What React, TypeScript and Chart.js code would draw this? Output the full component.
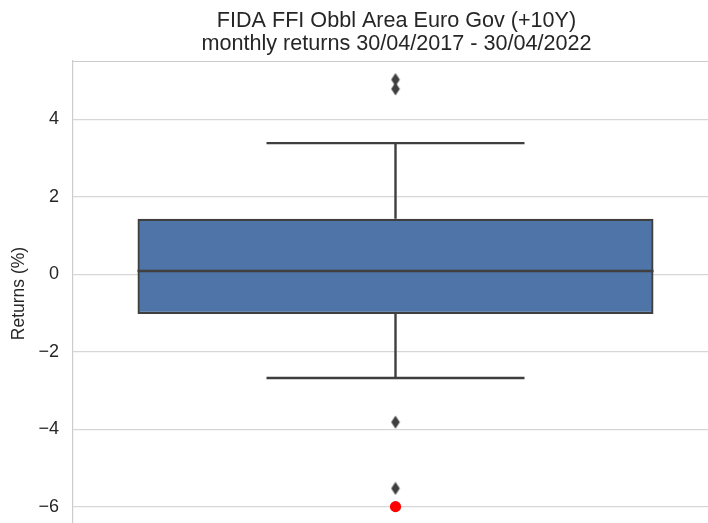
import React, { useEffect, useRef } from "react";
import { Chart, registerables } from "chart.js";

Chart.register(...registerables);

// ---- data ----
const categories = ["FIDA FFI Obbl Area Euro Gov (+10Y)"];
const boxLow = [-1.03];      // Q1
const boxHigh = [1.43];      // Q3
const medians = [0.08];
const whiskerLow = [-2.68];
const whiskerHigh = [3.38];
const outliers = [5.02, 4.78, -3.82, -5.53];
const highlighted = [-6.0];
const yTicks = [-6, -4, -2, 0, 2, 4];
const titleLines = ["FIDA FFI Obbl Area Euro Gov (+10Y)", "monthly returns 30/04/2017 - 30/04/2022"];
const yLabel = "Returns (%)";

const DARK = "#3f3f3f";
const FONT = "'Liberation Sans', Arial, sans-serif";
const W = 730;
const H = 533;

function makeDiamond(): HTMLCanvasElement {
  const c = document.createElement("canvas");
  c.width = 10;
  c.height = 14;
  const ctx = c.getContext("2d")!;
  ctx.fillStyle = DARK;
  ctx.beginPath();
  ctx.moveTo(5, 0.5);
  ctx.lineTo(9.3, 7);
  ctx.lineTo(5, 13.5);
  ctx.lineTo(0.7, 7);
  ctx.closePath();
  ctx.fill();
  return c;
}

const boxPlugin = {
  id: "boxExtras",
  afterDatasetsDraw(chart: any) {
    const { ctx, scales } = chart;
    const x = scales.x;
    const y = scales.y;
    const meta = chart.getDatasetMeta(0);
    ctx.save();
    categories.forEach((_, i) => {
      const bar = meta.data[i];
      const cx = x.getPixelForValue(i);
      const half = bar.width / 2;
      const capHalf = half / 2;
      ctx.strokeStyle = DARK;
      ctx.lineWidth = 2.4;
      ctx.beginPath();
      ctx.moveTo(cx, y.getPixelForValue(boxHigh[i]));
      ctx.lineTo(cx, y.getPixelForValue(whiskerHigh[i]));
      ctx.moveTo(cx, y.getPixelForValue(boxLow[i]));
      ctx.lineTo(cx, y.getPixelForValue(whiskerLow[i]));
      ctx.stroke();
      ctx.beginPath();
      ctx.moveTo(cx - capHalf, y.getPixelForValue(whiskerHigh[i]));
      ctx.lineTo(cx + capHalf, y.getPixelForValue(whiskerHigh[i]));
      ctx.moveTo(cx - capHalf, y.getPixelForValue(whiskerLow[i]));
      ctx.lineTo(cx + capHalf, y.getPixelForValue(whiskerLow[i]));
      ctx.stroke();
      ctx.beginPath();
      ctx.moveTo(cx - half, y.getPixelForValue(medians[i]));
      ctx.lineTo(cx + half, y.getPixelForValue(medians[i]));
      ctx.stroke();
    });
    ctx.restore();
  },
  beforeDatasetsDraw(chart: any) {
    const { ctx, chartArea } = chart;
    ctx.save();
    ctx.strokeStyle = "#cccccc";
    ctx.lineWidth = 1.2;
    ctx.beginPath();
    ctx.moveTo(chartArea.left, chartArea.top + 0.5);
    ctx.lineTo(chartArea.right, chartArea.top + 0.5);
    ctx.stroke();
    ctx.restore();
  },
  afterDraw(chart: any) {
    const { ctx, chartArea } = chart;
    const cx = (chartArea.left + chartArea.right) / 2 + 1;
    ctx.save();
    ctx.fillStyle = "#262626";
    ctx.font = `21.6px ${FONT}`;
    ctx.textAlign = "center";
    ctx.textBaseline = "alphabetic";
    ctx.fillText(titleLines[0], cx, 27);
    ctx.fillText(titleLines[1], cx, 50);
    ctx.restore();
  },
};

export default function App() {
  const ref = useRef<HTMLCanvasElement | null>(null);
  useEffect(() => {
    if (!ref.current) return;
    const diamond = makeDiamond();
    const chart = new Chart(ref.current, {
      type: "bar",
      data: {
        labels: categories,
        datasets: [
          {
            type: "bar",
            data: categories.map((_, i) => [boxLow[i], boxHigh[i]]) as any,
            backgroundColor: "#4f74a8",
            borderColor: DARK,
            borderWidth: 2.4,
            borderSkipped: false,
            barPercentage: 0.8,
            categoryPercentage: 1.0,
          } as any,
          {
            type: "scatter",
            data: outliers.map((v) => ({ x: 0, y: v })),
            pointStyle: diamond as any,
            pointRadius: 6,
            backgroundColor: DARK,
          } as any,
          {
            type: "scatter",
            data: highlighted.map((v) => ({ x: 0, y: v })),
            pointStyle: "circle",
            pointRadius: 5.6,
            backgroundColor: "#ff0000",
            borderColor: "#ff0000",
            borderWidth: 0,
          } as any,
        ],
      },
      options: {
        animation: false,
        responsive: false,
        devicePixelRatio: 1,
        layout: { padding: { left: 0, top: 61, right: 12, bottom: 0 } },
        plugins: { legend: { display: false }, tooltip: { enabled: false }, title: { display: false } },
        scales: {
          x: {
            type: "category",
            display: false,
            offset: true,
            grid: { display: false },
          },
          y: {
            min: -6.5,
            max: 5.5,
            afterFit(scale: any) {
              scale.width = 73;
              scale.paddingTop = 0;
              scale.paddingBottom = 0;
            },
            afterBuildTicks(scale: any) {
              scale.ticks = yTicks.map((v) => ({ value: v }));
            },
            ticks: {
              padding: 14,
              color: "#262626",
              font: { family: FONT, size: 18 },
              callback: (v: any) => (Number(v) < 0 ? "\u2212" + Math.abs(Number(v)) : String(v)),
            },
            grid: { color: "#d6d6d6", lineWidth: 1.2, drawTicks: false, tickLength: 0 },
            border: { display: true, color: "#cccccc", width: 1.2 },
            title: {
              display: true,
              text: yLabel,
              color: "#262626",
              font: { family: FONT, size: 17.5 },
              padding: { top: 9, bottom: 0 },
            },
          },
        },
      },
      plugins: [boxPlugin],
    });
    return () => chart.destroy();
  }, []);
  return (
    <div style={{ position: "fixed", left: 0, top: 0, width: W, height: H, background: "#ffffff" }}>
      <canvas ref={ref} width={W} height={H} style={{ width: W, height: H, display: "block" }} />
    </div>
  );
}
